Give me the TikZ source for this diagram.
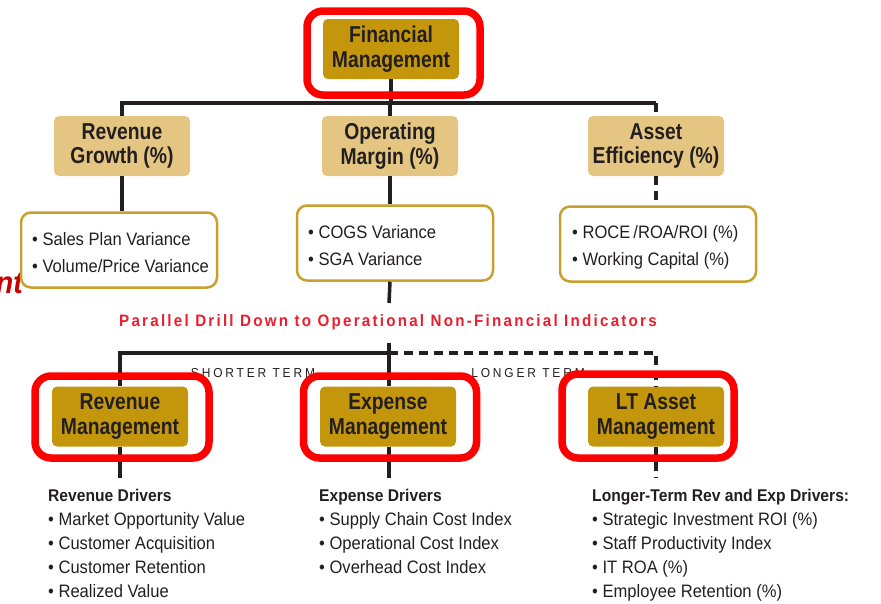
\documentclass[tikz,border=0pt]{standalone}
\usepackage{fontspec}
\setmainfont[FakeStretch=0.92]{Liberation Sans}
\newfontfamily\boxfont[FakeStretch=0.84]{Liberation Sans}
\definecolor{gold}{RGB}{196,150,12}
\definecolor{tanfill}{RGB}{228,198,130}
\definecolor{goldline}{RGB}{200,160,45}
\definecolor{hlred}{RGB}{255,0,0}
\definecolor{txtred}{RGB}{235,30,45}
\definecolor{darkred}{RGB}{200,0,0}
\definecolor{ink}{RGB}{35,31,32}
\tikzset{
  boxbase/.style={rounded corners=5pt, minimum width=136pt, minimum height=60pt,
    align=center, text=ink, inner sep=0pt,
    font=\boxfont\fontsize{23}{24.5}\selectfont\bfseries},
  goldbox/.style={boxbase, fill=gold},
  tanbox/.style={boxbase, fill=tanfill},
  varbox/.style={draw=goldline, line width=2.5pt, fill=white, rounded corners=10pt,
    minimum width=196pt, minimum height=75pt, inner sep=0pt},
  conn/.style={draw=ink, line width=3.5pt},
  dconn/.style={conn, dash pattern=on 9pt off 6pt},
  hl/.style={draw=hlred, line width=7.5pt, rounded corners=16pt, inner sep=0pt},
  item/.style={font=\fontsize{18}{20}\selectfont, text=ink, anchor=base west, inner sep=0pt},
  head/.style={font=\fontsize{17}{20}\selectfont\bfseries, text=ink, anchor=base west, inner sep=0pt},
  termlbl/.style={font=\fontsize{13}{14}\selectfont\addfontfeatures{LetterSpace=22}, text=ink, anchor=base, inner sep=0pt},
}
\begin{document}
\begin{tikzpicture}[x=1pt,y=-1pt]
\useasboundingbox (0,0) rectangle (881,603);

% stray red title fragment
\node[font=\fontsize{31}{34}\selectfont\bfseries\itshape, text=darkred, anchor=base east, inner sep=0pt] (frag) at (23,293) {nt};

% top level
\node[goldbox] (FM) at (391,49) {Financial\\Management};
\node[tanbox] (RG) at (122,146) {Revenue\\Growth (\%)};
\node[tanbox] (OM) at (390,146) {Operating\\Margin (\%)};
\node[tanbox] (AE) at (656,146) {Asset\\Efficiency (\%)};

\coordinate (busTop) at (389,103);
\draw[conn] (FM.south) -- (FM.south |- busTop);
\draw[conn] (RG.north) -- (RG.north |- busTop) -- (AE.north |- busTop);
\draw[dconn] (AE.north |- busTop) -- (AE.north);
\draw[conn] (OM.north |- busTop) -- (OM.north);

% variance boxes
\node[varbox] (SP) at (119,250) {};
\node[varbox] (CV) at (395,243) {};
\node[varbox] (RO) at (658,244) {};
\draw[conn] (RG.south) -- (RG.south |- SP.north);
\draw[conn] (OM.south) -- (OM.south |- CV.north);
\draw[dconn] (AE.south) -- (AE.south |- RO.north);

\node[item] (sp1) at (32,245) {\textbullet\ Sales Plan Variance};
\node[item] (sp2) at (32,272) {\textbullet\ Volume/Price Variance};
\node[item] (cv1) at (308,238) {\textbullet\ COGS Variance};
\node[item] (cv2) at (308,265) {\textbullet\ SGA Variance};
\node[item] (ro1) at (572,238) {\textbullet\ ROCE\,/ROA/ROI (\%)};
\node[item] (ro2) at (572,265) {\textbullet\ Working Capital (\%)};

% drill down
\coordinate (drillTop) at (389,303);
\coordinate (drillBot) at (389,343);
\coordinate (busMid) at (389,353);
\draw[conn] (OM.south |- CV.south) -- (drillTop);
\node[font=\fontsize{16.5}{20}\selectfont\bfseries\addfontfeatures{LetterSpace=13.5}, text=txtred, anchor=base, inner sep=0pt] (drill) at (388,326) {Parallel Drill Down to Operational Non-Financial Indicators};

% lower level
\node[goldbox] (RM) at (120,416.5) {Revenue\\Management};
\node[goldbox] (EM) at (388,416.5) {Expense\\Management};
\node[goldbox] (LT) at (656,416.5) {LT Asset\\Management};

\draw[conn] (drillBot) -- (EM.north -| drillBot);
\draw[conn] (RM.north) |- (busMid);
\draw[dconn] (busMid) -| (LT.north);

\node[termlbl] (st) at (253,377) {SHORTER TERM};
\node[termlbl] (lt) at (528,377) {LONGER TERM};

\coordinate (drvEnd) at (389,478);
\draw[conn] (RM.south) -- (RM.south |- drvEnd);
\draw[conn] (EM.south -| drillBot) -- (drvEnd);
\draw[dconn] (LT.south) -- (LT.south |- drvEnd);

% drivers
\node[head] (rd0) at (48,501) {Revenue Drivers};
\node[item] (rd1) at (48,525) {\textbullet\ Market Opportunity Value};
\node[item] (rd2) at (48,549) {\textbullet\ Customer Acquisition};
\node[item] (rd3) at (48,573) {\textbullet\ Customer Retention};
\node[item] (rd4) at (48,597) {\textbullet\ Realized Value};

\node[head] (ed0) at (319,501) {Expense Drivers};
\node[item] (ed1) at (319,525) {\textbullet\ Supply Chain Cost Index};
\node[item] (ed2) at (319,549) {\textbullet\ Operational Cost Index};
\node[item] (ed3) at (319,573) {\textbullet\ Overhead Cost Index};

\node[head] (ld0) at (592,501) {Longer-Term Rev and Exp Drivers:};
\node[item] (ld1) at (592,525) {\textbullet\ Strategic Investment ROI (\%)};
\node[item] (ld2) at (592,549) {\textbullet\ Staff Productivity Index};
\node[item] (ld3) at (592,573) {\textbullet\ IT ROA (\%)};
\node[item] (ld4) at (592,597) {\textbullet\ Employee Retention (\%)};

% red highlight frames
\node[hl, minimum width=173pt, minimum height=84pt] (hlFM) at (393.5,53) {};
\node[hl, minimum width=174pt, minimum height=82pt] (hlRM) at (122,417) {};
\node[hl, minimum width=173pt, minimum height=82pt] (hlEM) at (390,417) {};
\node[hl, minimum width=172pt, minimum height=84pt] (hlLT) at (648,416) {};
\end{tikzpicture}
\end{document}
